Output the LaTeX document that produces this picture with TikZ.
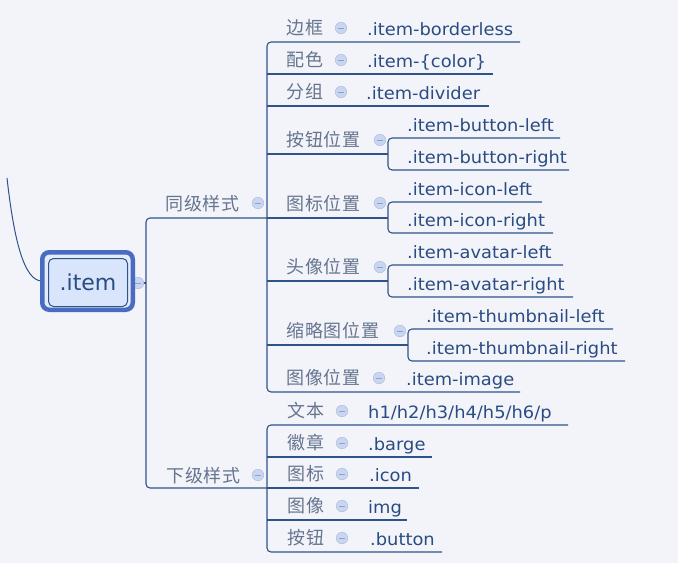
\documentclass[tikz,border=0pt]{standalone}
\usepackage{fontspec}
\setmainfont{DejaVu Sans}
\newfontfamily\cjk[LetterSpace=5]{Noto Sans CJK SC}
\newfontfamily\enf[FakeStretch=1.05]{DejaVu Sans}
\newfontfamily\enroot{DejaVu Sans}
\definecolor{bgC}{HTML}{F2F4FA}
\definecolor{lineC}{HTML}{30528A}
\definecolor{enC}{HTML}{2A4C82}
\definecolor{cnC}{HTML}{66748E}
\definecolor{circF}{HTML}{CAD6F0}
\definecolor{circD}{HTML}{B3C2E3}
\definecolor{circM}{HTML}{8CA1CC}
\definecolor{rootB}{HTML}{4A6BC2}
\definecolor{rootF}{HTML}{D8E5FB}
\definecolor{rootG}{HTML}{E4ECFC}
\begin{document}
\begin{tikzpicture}[x=1pt,y=-1pt,
  ln/.style={draw=lineC, line width=1.1pt, rounded corners=4pt},
  cn/.style={font=\cjk\fontsize{18}{18}\selectfont, text=cnC, anchor=base west, inner sep=0pt},
  en/.style={font=\enf\fontsize{17}{17}\selectfont, text=enC, anchor=base west, inner sep=0pt},
  minus/.style={circle, draw=circD, fill=circF, line width=0.6pt, minimum size=11.5pt, inner sep=0pt,
    path picture={\draw[circM, line width=1pt] ([xshift=-2.8pt]path picture bounding box.center) -- ([xshift=2.8pt]path picture bounding box.center);}}
]
\fill[bgC] (0,0) rectangle (678,563);
\useasboundingbox (0,0) rectangle (678,563);

% ---- connectors ----
\coordinate (rootR) at (135,283);
\coordinate (trunk) at (146,283);
\draw[ln] (rootR) -- (trunk);
\draw[ln] (267,218) -- (146,218) -- (146,488) -- (267,488);
% upper group
\draw[ln] (520,42) -- (267,42) -- (267,392) -- (520,392);
\draw[ln] (267,74) -- (493,74);
\draw[ln] (267,106) -- (489,106);
\draw[ln] (267,154) -- (388,154);
\draw[ln] (267,218) -- (388,218);
\draw[ln] (267,281) -- (388,281);
\draw[ln] (267,345) -- (408,345);
\draw[ln] (560,138) -- (388,138) -- (388,170) -- (569,170);
\draw[ln] (542,202) -- (388,202) -- (388,233) -- (553,233);
\draw[ln] (563,265) -- (388,265) -- (388,297) -- (573,297);
\draw[ln] (613,329) -- (408,329) -- (408,361) -- (625,361);
% lower group
\draw[ln] (568,425) -- (267,425) -- (267,552) -- (442,552);
\draw[ln] (267,457) -- (432,457);
\draw[ln] (267,488) -- (419,488);
\draw[ln] (267,520) -- (407,520);
% incoming curve
\coordinate (inc) at (7,178);
\coordinate (rootL) at (42,281);
\draw[lineC, line width=1pt] (inc) .. controls (14,240) and (24,281) .. (rootL);

% ---- root ----
\node[minus] (m0) at (138,283) {};
\draw[rootB, fill=rootG, line width=4.5pt, rounded corners=7pt] (42.25,252.25) rectangle (132.75,309.75);
\draw[lineC, fill=rootF, line width=1pt, rounded corners=5pt] (48.5,258.5) rectangle (127.5,306.5);
\node[font=\enroot\fontsize{22}{22}\selectfont, text=enC, anchor=base, inner sep=0pt] (root) at (88,290) {.item};

% ---- level 1 ----
\node[cn] (tj) at (165,210) {同级样式};
\node[minus] (mtj) at (258,203) {};
\node[cn] (xj) at (166,482) {下级样式};
\node[minus] (mxj) at (258,475) {};

% ---- upper children ----
\node[cn] (a1) at (286,34) {边框};
\node[minus] (ma1) at (341,28) {};
\node[en] (b1) at (367,35) {.item-borderless};

\node[cn] (a2) at (286,66) {配色};
\node[minus] (ma2) at (341,60) {};
\node[en] (b2) at (367,67) {.item-\{color\}};

\node[cn] (a3) at (286,98) {分组};
\node[minus] (ma3) at (341,92) {};
\node[en] (b3) at (366,99) {.item-divider};

\node[cn] (a4) at (286,146) {按钮位置};
\node[minus] (ma4) at (380,140) {};
\node[en] (b4l) at (407,131) {.item-button-left};
\node[en] (b4r) at (407,163) {.item-button-right};

\node[cn] (a5) at (286,210) {图标位置};
\node[minus] (ma5) at (380,203) {};
\node[en] (b5l) at (407,195) {.item-icon-left};
\node[en] (b5r) at (407,226) {.item-icon-right};

\node[cn] (a6) at (286,273) {头像位置};
\node[minus] (ma6) at (380,267) {};
\node[en] (b6l) at (407,258) {.item-avatar-left};
\node[en] (b6r) at (407,290) {.item-avatar-right};

\node[cn] (a7) at (286,337) {缩略图位置};
\node[minus] (ma7) at (400,331) {};
\node[en] (b7l) at (426,322) {.item-thumbnail-left};
\node[en] (b7r) at (426,354) {.item-thumbnail-right};

\node[cn] (a8) at (286,384) {图像位置};
\node[minus] (ma8) at (379,378) {};
\node[en] (b8) at (406,385) {.item-image};

% ---- lower children ----
\node[cn] (c1) at (287,417) {文本};
\node[minus] (mc1) at (342,411) {};
\node[en] (d1) at (368,418) {h1/h2/h3/h4/h5/h6/p};

\node[cn] (c2) at (287,449) {徽章};
\node[minus] (mc2) at (342,443) {};
\node[en] (d2) at (368,450) {.barge};

\node[cn] (c3) at (287,480) {图标};
\node[minus] (mc3) at (342,474) {};
\node[en] (d3) at (369,481) {.icon};

\node[cn] (c4) at (287,512) {图像};
\node[minus] (mc4) at (342,506) {};
\node[en] (d4) at (368,513) {img};

\node[cn] (c5) at (287,544) {按钮};
\node[minus] (mc5) at (342,538) {};
\node[en] (d5) at (370,545) {.button};
\end{tikzpicture}
\end{document}
